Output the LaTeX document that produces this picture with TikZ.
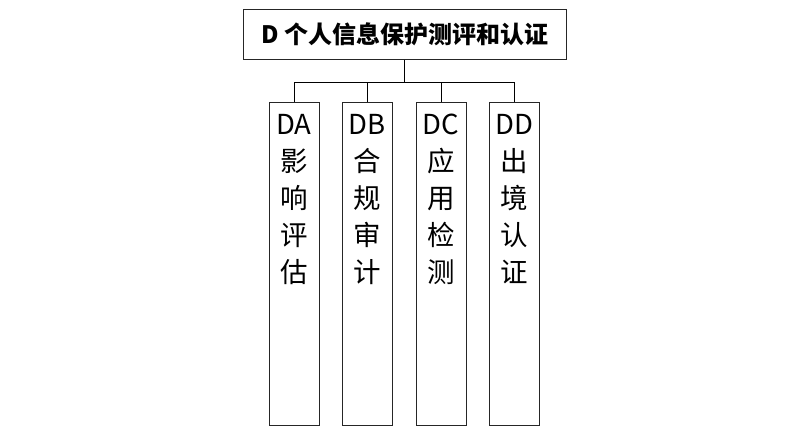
\documentclass[tikz,border=0pt]{standalone}
\usepackage{fontspec}
\setmainfont{Noto Sans CJK SC}
\usetikzlibrary{positioning, calc}

\begin{document}
\begin{tikzpicture}[x=1pt, y=-1pt,
  titolo/.style={draw=black!85, line width=1pt, minimum width=323pt,
    minimum height=50pt, inner sep=0pt,
    font=\fontsize{24}{28}\selectfont\bfseries},
  ramo/.style={draw=black!85, line width=1pt, minimum width=50pt,
    minimum height=323pt, anchor=north, inner sep=0pt},
  scritta/.style={anchor=north, align=center, inner sep=0pt,
    font=\fontsize{27.5}{37}\selectfont}]

  % --- Cornice ---
  \useasboundingbox (0,0) rectangle (802,442);

  % --- Nodo principale ---
  \node[titolo] (d) at (404.5,34) {D 个人信息保护测评和认证};

  % --- Rami ---
  \node[ramo] (da) at (294,102) {};
  \node[ramo] (db) at (367,102) {};
  \node[ramo] (dc) at (441,102) {};
  \node[ramo] (dd) at (514,102) {};

  \node[scritta] (da-t) at ($(da.north)+(0,12)$) {DA\\影\\响\\评\\估};
  \node[scritta] (db-t) at ($(db.north)+(0,12)$) {DB\\合\\规\\审\\计};
  \node[scritta] (dc-t) at ($(dc.north)+(0,12)$) {DC\\应\\用\\检\\测};
  \node[scritta] (dd-t) at ($(dd.north)+(0,12)$) {DD\\出\\境\\认\\证};

  % --- Collegamenti ---
  \coordinate (snodo) at (d.south |- 0,82);
  \draw[line width=1pt] (d.south) -- (snodo);
  \foreach \n in {da,db,dc,dd}{
    \draw[line width=1pt] (snodo) -| (\n.north);
  }

\end{tikzpicture}
\end{document}
